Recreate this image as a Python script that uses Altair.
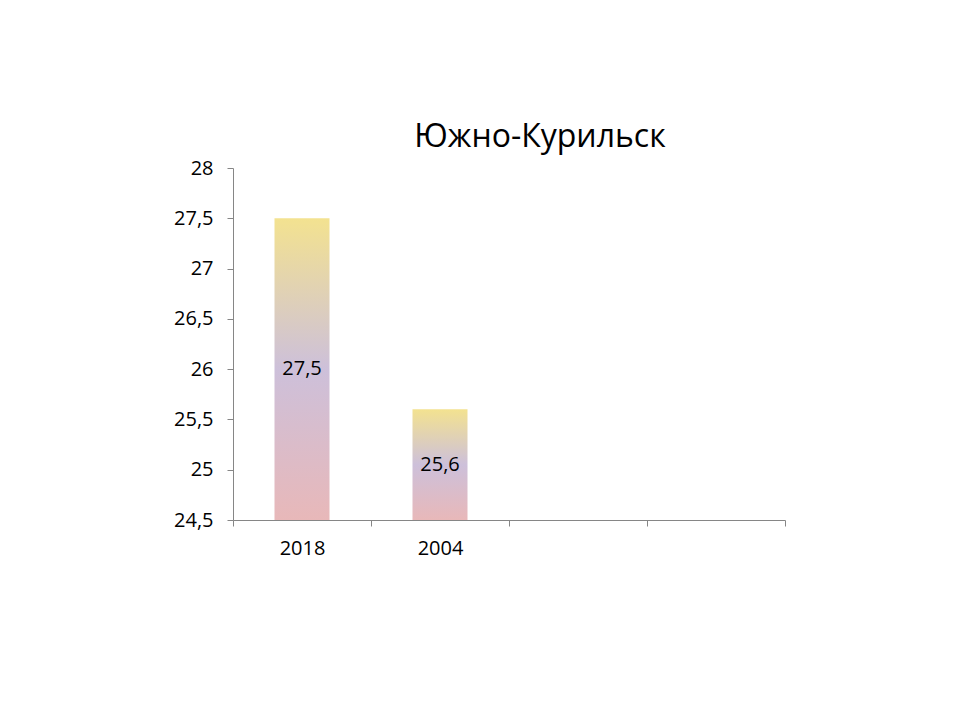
import altair as alt
import pandas as pd

categories = ["2018", "2004", " ", "  "]
values = [27.5, 25.6, None, None]
y_ticks = [24.5, 25, 25.5, 26, 26.5, 27, 27.5, 28]

df = pd.DataFrame({"cat": categories, "val": values})
base_val = 24.5

grad = alt.Gradient(
    gradient="linear", x1=0, y1=0, x2=0, y2=1,
    stops=[
        alt.GradientStop(offset=0, color="#f3e290"),
        alt.GradientStop(offset=0.5, color="#cdc0da"),
        alt.GradientStop(offset=1, color="#e8b8b9"),
    ],
)

x = alt.X("cat:N", sort=categories, title=None,
          scale=alt.Scale(domain=categories, paddingInner=0, paddingOuter=0),
          axis=alt.Axis(labelAngle=0, tickBand="extent", ticks=True, tickSize=6,
                        domainColor="#868686", tickColor="#868686",
                        labelFontSize=20, labelColor="#000000", labelFont="Open Sans",
                        labelPadding=12))
y = alt.Y("val:Q", title=None,
          scale=alt.Scale(domain=[24.5, 28], nice=False, zero=False),
          axis=alt.Axis(values=y_ticks, tickSize=6, domainColor="#868686",
                        tickColor="#868686", labelFontSize=20, labelColor="#000000",
                        labelFont="Open Sans", grid=False, labelPadding=14,
                        labelExpr="replace(toString(datum.value), '.', ',')"))

bars = alt.Chart(df).transform_filter("isValid(datum.val)").transform_calculate(
    base=str(base_val)
).mark_bar(fill=grad, size=55).encode(x=x, y=y, y2=alt.Y2("base:Q"))

labels = alt.Chart(df).transform_filter("isValid(datum.val)").transform_calculate(
    mid=f"(datum.val + {base_val}) / 2",
    lab="replace(toString(datum.val), '.', ',')",
).mark_text(fontSize=20, font="Open Sans", color="#000000").encode(
    x=alt.X("cat:N", sort=categories),
    y=alt.Y("mid:Q"),
    text="lab:N",
)

chart = alt.layer(bars, labels).properties(
    width=552, height=352,
    title=alt.TitleParams("Южно-Курильск", fontSize=32, font="Open Sans",
                          fontWeight="normal", color="#000000", offset=4, dx=31),
    autosize=alt.AutoSizeParams(type="none"),
    padding={"left": 225, "top": 160, "right": 160, "bottom": 180},
).configure_view(stroke=None)

chart.save("out.html", embed_options={"renderer": "svg", "actions": False})
